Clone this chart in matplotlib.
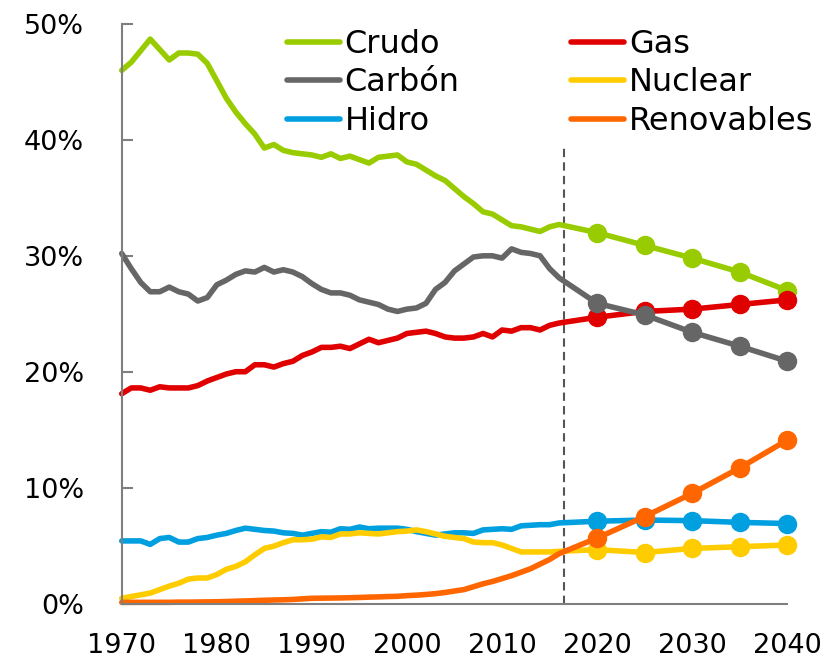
import numpy as np
import matplotlib
matplotlib.use('Agg')
import matplotlib.pyplot as plt

# historical years and projection years
hist_years = np.arange(1970, 2017)
proj_years = [2020, 2025, 2030, 2035, 2040]

crudo_hist = [46.0, 46.7, 47.7, 48.7, 47.8, 46.9, 47.5, 47.5, 47.4, 46.6,
              45.1, 43.6, 42.4, 41.4, 40.5, 39.3, 39.6, 39.1, 38.9, 38.8,
              38.7, 38.5, 38.8, 38.4, 38.6, 38.3, 38.0, 38.5, 38.6, 38.7,
              38.1, 37.9, 37.4, 36.9, 36.5, 35.8, 35.1, 34.5, 33.8, 33.6,
              33.1, 32.6, 32.5, 32.3, 32.1, 32.5, 32.7]
gas_hist = [18.1, 18.6, 18.6, 18.4, 18.7, 18.6, 18.6, 18.6, 18.8, 19.2,
            19.5, 19.8, 20.0, 20.0, 20.6, 20.6, 20.4, 20.7, 20.9, 21.4,
            21.7, 22.1, 22.1, 22.2, 22.0, 22.4, 22.8, 22.5, 22.7, 22.9,
            23.3, 23.4, 23.5, 23.3, 23.0, 22.9, 22.9, 23.0, 23.3, 23.0,
            23.6, 23.5, 23.8, 23.8, 23.6, 24.0, 24.2]
carbon_hist = [30.2, 28.9, 27.7, 26.9, 26.9, 27.3, 26.9, 26.7, 26.1, 26.4,
               27.5, 27.9, 28.4, 28.7, 28.6, 29.0, 28.6, 28.8, 28.6, 28.2,
               27.6, 27.1, 26.8, 26.8, 26.6, 26.2, 26.0, 25.8, 25.4, 25.2,
               25.4, 25.5, 25.9, 27.1, 27.7, 28.7, 29.3, 29.9, 30.0, 30.0,
               29.8, 30.6, 30.3, 30.2, 30.0, 28.9, 28.1]
hidro_hist = [5.4, 5.4, 5.4, 5.1, 5.6, 5.7, 5.3, 5.3, 5.6, 5.7,
              5.9, 6.05, 6.3, 6.5, 6.4, 6.3, 6.25, 6.1, 6.05, 5.9,
              6.05, 6.2, 6.15, 6.45, 6.4, 6.6, 6.45, 6.5, 6.5, 6.5,
              6.4, 6.2, 6.05, 5.9, 6.0, 6.1, 6.1, 6.05, 6.35, 6.4,
              6.45, 6.4, 6.7, 6.75, 6.8, 6.8, 6.95]
nuclear_hist = [0.45, 0.6, 0.75, 0.9, 1.2, 1.5, 1.75, 2.1, 2.2, 2.2,
                2.5, 2.95, 3.2, 3.6, 4.2, 4.75, 4.95, 5.25, 5.5, 5.5,
                5.55, 5.75, 5.7, 6.0, 6.0, 6.1, 6.05, 6.0, 6.1, 6.2,
                6.25, 6.35, 6.2, 6.0, 5.8, 5.7, 5.6, 5.3, 5.25, 5.25,
                5.05, 4.75, 4.45, 4.45, 4.45, 4.45, 4.5]
renov_hist = [0.1, 0.1, 0.1, 0.1, 0.1, 0.1, 0.12, 0.12, 0.13, 0.14,
              0.15, 0.17, 0.2, 0.22, 0.25, 0.28, 0.3, 0.32, 0.35, 0.4,
              0.45, 0.46, 0.47, 0.48, 0.5, 0.52, 0.55, 0.57, 0.6, 0.62,
              0.68, 0.72, 0.78, 0.85, 0.95, 1.08, 1.2, 1.45, 1.7, 1.9,
              2.15, 2.4, 2.7, 3.0, 3.4, 3.8, 4.3]

crudo_proj = [32.0, 30.9, 29.8, 28.6, 27.0]
gas_proj = [24.7, 25.2, 25.4, 25.8, 26.2]
carbon_proj = [25.9, 24.9, 23.4, 22.2, 20.9]
hidro_proj = [7.1, 7.2, 7.15, 7.0, 6.9]
nuclear_proj = [4.65, 4.4, 4.75, 4.9, 5.05]
renov_proj = [5.65, 7.5, 9.5, 11.7, 14.1]

# dashed separator between history and outlook
divider_year = 2016.5
divider_top = 39.3

series = [
    ('Crudo', crudo_hist, crudo_proj, '#99cc00'),
    ('Gas', gas_hist, gas_proj, '#e00000'),
    ('Carbón', carbon_hist, carbon_proj, '#666666'),
    ('Hidro', hidro_hist, hidro_proj, '#009fe0'),
    ('Nuclear', nuclear_hist, nuclear_proj, '#ffcc00'),
    ('Renovables', renov_hist, renov_proj, '#ff6600'),
]

fig = plt.figure(figsize=(8.23, 6.6), dpi=100)
ax = fig.add_axes([0.1479, 0.0856, 0.8087, 0.878])

ax.vlines(divider_year, 0, divider_top, colors='#555555', linestyles=(0, (4, 2.5)),
          linewidth=1.5, zorder=1)

handles = {}
for name, hist, proj, col in series:
    xs = list(hist_years) + proj_years
    ys = list(hist) + proj
    ln, = ax.plot(xs, ys, color=col, lw=4, solid_capstyle='round',
                  solid_joinstyle='round', clip_on=False, label=name)
    ax.plot(proj_years, proj, 'o', color=col, ms=13, clip_on=False)
    handles[name] = ln

ax.set_xlim(1970, 2040)
ax.set_ylim(0, 50)
ax.set_xticks([1970, 1980, 1990, 2000, 2010, 2020, 2030, 2040])
ax.set_yticks([0, 10, 20, 30, 40, 50])
ax.set_yticklabels(['0%', '10%', '20%', '30%', '40%', '50%'])

for s in ['top', 'right']:
    ax.spines[s].set_visible(False)
for s in ['left', 'bottom']:
    ax.spines[s].set_color('#7f7f7f')
    ax.spines[s].set_linewidth(1.5)

ax.tick_params(axis='y', direction='in', length=8, width=1.5, color='#7f7f7f',
               pad=27, labelsize=19.5)
ax.tick_params(axis='x', length=0, pad=21, labelsize=19.5)

order = ['Crudo', 'Carbón', 'Hidro', 'Gas', 'Nuclear', 'Renovables']
fig.legend([handles[n] for n in order], order, loc='upper left',
           bbox_to_anchor=(287 / 823, 1 - 29 / 660), ncol=2, frameon=False,
           fontsize=23, borderpad=0, borderaxespad=0, handlelength=1.65,
           handletextpad=0.15, labelspacing=0.23, columnspacing=3.5)

plt.savefig('out.png', dpi=100)
